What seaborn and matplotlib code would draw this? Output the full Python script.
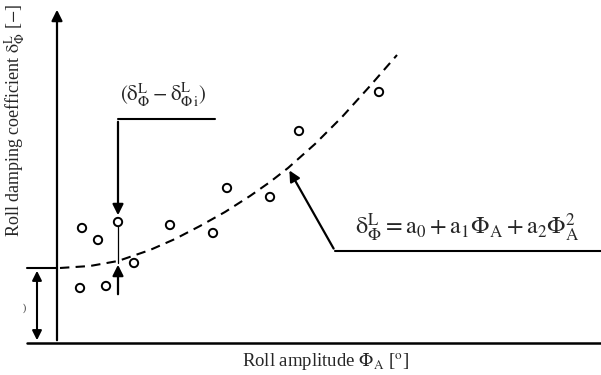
import numpy as np
import pandas as pd
import seaborn as sns
import matplotlib.pyplot as plt

amp = [25, 41, 61, 23, 49, 77, 113, 156, 170, 213, 242, 322]
damp = [115, 103, 121, 55, 57, 80, 118, 110, 155, 146, 212, 251]

# fitted quadratic curve
fit_amp = [3, 33, 61, 93, 118, 143, 168, 193, 213, 231, 258, 285, 313, 340]
fit_damp = [75, 77, 82, 93, 104, 117, 131, 147, 161, 175, 199, 226, 257, 288]

a0 = 75
i_amp = 61  # point i used for the deviation arrows

pts = pd.DataFrame({"amp": amp, "damp": damp})
fit = pd.DataFrame({"amp": fit_amp, "damp": fit_damp})

sns.set_theme(style="white")
plt.rcParams["font.family"] = ["Liberation Serif", "DejaVu Serif"]
plt.rcParams["mathtext.fontset"] = "stix"

D = r"\mathrm{\delta}"

fig = plt.figure(figsize=(6.01, 3.75), dpi=100)
ax = fig.add_axes([0, 0, 1, 1])
ax.set_xlim(-57, 544)
ax.set_ylim(-32, 343)
ax.axis("off")

sns.lineplot(data=fit, x="amp", y="damp", ax=ax, sort=False, estimator=None,
             color="black", lw=1.5, linestyle=(0, (4.5, 3)))
sns.scatterplot(data=pts, x="amp", y="damp", ax=ax, s=36, marker="o",
                facecolor="none", edgecolor="black", linewidth=1.4, zorder=3)

# axes
k = dict(arrowstyle="-|>", color="black", lw=1.6, mutation_scale=16)
ax.annotate("", xy=(0, 336), xytext=(0, 0), arrowprops=k)
ax.plot([-30, 544], [0, 0], color="black", lw=1.8)

# a0 marker
ax.plot([-30, 0], [a0, a0], color="black", lw=1.5)
ax.annotate("", xy=(-20, a0), xytext=(-20, 0),
            arrowprops=dict(arrowstyle="<|-|>", color="black", lw=1.5, mutation_scale=14))
ax.text(-33, 35, ")", fontsize=7, ha="center", va="center")

# deviation arrows at point i
top = 224
ax.plot([i_amp, 158], [top, top], color="black", lw=1.5)
ax.annotate("", xy=(i_amp, 125), xytext=(i_amp, top), arrowprops=k)
ax.plot([i_amp, i_amp], [80, 117], color="black", lw=0.9)
ax.annotate("", xy=(i_amp, 81), xytext=(i_amp, 46), arrowprops=k)
ax.text(106, 248, r"$(" + D + r"_{\Phi}^{\mathrm{L}} - " + D + r"_{\Phi\,\mathrm{i}}^{\mathrm{L}})$",
        fontsize=15, ha="center", va="center")

# formula pointer
ax.annotate("", xy=(231, 175), xytext=(278, 92), arrowprops=k)
ax.plot([278, 544], [92, 92], color="black", lw=1.5)
ax.text(298, 115,
        r"$" + D + r"_{\Phi}^{\mathrm{L}} = \mathrm{a}_0 + \mathrm{a}_1\Phi_{\mathrm{A}}"
        r" + \mathrm{a}_2\Phi_{\mathrm{A}}^2$",
        fontsize=17.5, ha="left", va="center")

# labels
ax.text(269, -19, r"Roll amplitude $\Phi_{\mathrm{A}}$ [$^{\mathrm{o}}$]", fontsize=13.5,
        ha="center", va="center")
ax.text(-42, 223, r"Roll damping coefficient $" + D + r"_{\Phi}^{\mathrm{L}}$ [$-$]",
        fontsize=13, rotation=90, ha="center", va="center")

fig.savefig("out.png", dpi=100)
